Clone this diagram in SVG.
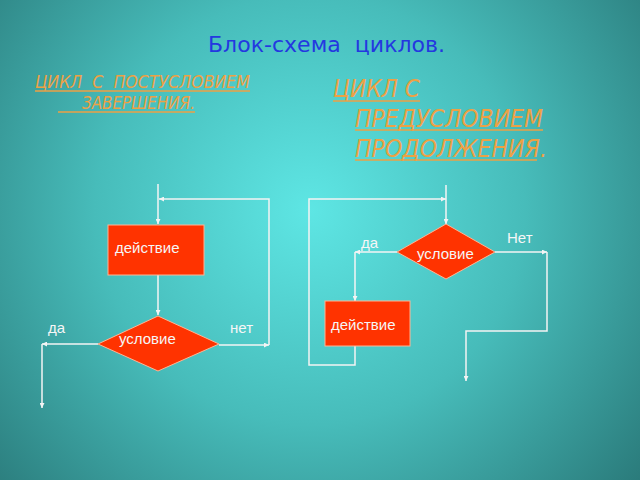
<svg xmlns="http://www.w3.org/2000/svg" width="640" height="480" viewBox="0 0 640 480">
<defs>
<radialGradient id="bg" gradientUnits="userSpaceOnUse" cx="310" cy="210" r="430">
<stop offset="0" stop-color="#5ee6e4"/>
<stop offset="0.5" stop-color="#47bcba"/>
<stop offset="1" stop-color="#2a7a7a"/>
</radialGradient>
<marker id="ah" viewBox="0 0 10 10" refX="10" refY="5" markerWidth="5" markerHeight="5" orient="auto" markerUnits="userSpaceOnUse">
<path d="M0,0 L10,5 L0,10 z" fill="#f4f4f4"/>
</marker>
<style>
.title{font-family:"DejaVu Sans",sans-serif;font-size:21px;fill:#2438e0}
.sub{font-family:"DejaVu Sans","Liberation Sans",sans-serif;font-style:italic;fill:#eda145}
.ul{stroke:#eda145;stroke-width:1.5}
.node{fill:#ff3300;stroke:#ffb493;stroke-width:1}
.lbl{font-family:"Liberation Sans",Arial,sans-serif;font-size:15px;fill:#f6f6f6}
.c{fill:none;stroke:#f4f4f4;stroke-width:1.5}
.a{marker-end:url(#ah)}
</style>
</defs>
<rect width="640" height="480" fill="url(#bg)"/>

<text class="title" x="208" y="52" textLength="237" lengthAdjust="spacingAndGlyphs" xml:space="preserve">Блок-схема  циклов.</text>

<g id="subtitle-left">
<text class="sub" x="35" y="88" font-size="17" textLength="215" lengthAdjust="spacingAndGlyphs" xml:space="preserve">ЦИКЛ  С  ПОСТУСЛОВИЕМ</text>
<line class="ul" x1="35" y1="91" x2="250" y2="91"/>
<text class="sub" x="82" y="109" font-size="17" textLength="113" lengthAdjust="spacingAndGlyphs">ЗАВЕРШЕНИЯ.</text>
<line class="ul" x1="58" y1="112" x2="195" y2="112"/>
</g>

<g id="subtitle-right">
<text class="sub" x="333" y="97" font-size="24" textLength="87" lengthAdjust="spacingAndGlyphs">ЦИКЛ С</text>
<line class="ul" x1="333" y1="101" x2="420" y2="101"/>
<text class="sub" x="355" y="127" font-size="24" textLength="188" lengthAdjust="spacingAndGlyphs">ПРЕДУСЛОВИЕМ</text>
<line class="ul" x1="355" y1="130" x2="543" y2="130"/>
<text class="sub" x="355" y="157" font-size="24" textLength="192" lengthAdjust="spacingAndGlyphs">ПРОДОЛЖЕНИЯ.</text>
<line class="ul" x1="355" y1="160" x2="537" y2="160"/>
</g>

<g id="connectors">
<!-- left chart -->
<path class="c a" d="M158,184 V224"/>
<path class="c a" d="M158,275 V315"/>
<path class="c a" d="M219,345 H269"/>
<path class="c a" d="M269,345 V199 H159"/>
<path class="c a" d="M98,344 H42"/>
<path class="c a" d="M42,344 V408"/>
<!-- right chart -->
<path class="c a" d="M446,185 V224"/>
<path class="c a" d="M355,346 V365 H309 V199 H446"/>
<path class="c a" d="M397,252 H355"/>
<path class="c a" d="M355,252 V301"/>
<path class="c a" d="M495,252 H547"/>
<path class="c a" d="M547,252 V331 H466 V381"/>
</g>

<g id="left-action">
<rect class="node" x="108" y="225" width="96" height="50"/>
<text class="lbl" x="115" y="253">действие</text>
</g>
<g id="left-condition">
<polygon class="node" points="158,316 219,344 158,371 98,344"/>
<text class="lbl" x="119" y="344">условие</text>
</g>
<g id="left-labels">
<text class="lbl" x="48" y="333">да</text>
<text class="lbl" x="230" y="333">нет</text>
</g>

<g id="right-condition">
<polygon class="node" points="446,224 495,252 446,279 397,252"/>
<text class="lbl" x="417" y="259">условие</text>
</g>
<g id="right-action">
<rect class="node" x="325" y="301" width="85" height="45"/>
<text class="lbl" x="331" y="330">действие</text>
</g>
<g id="right-labels">
<text class="lbl" x="361" y="248">да</text>
<text class="lbl" x="507" y="243">Нет</text>
</g>
</svg>
